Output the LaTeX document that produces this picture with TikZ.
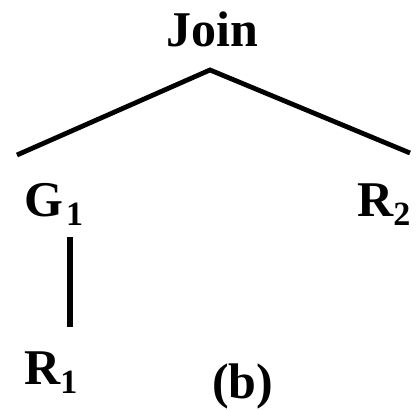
\documentclass[tikz,border=0pt]{standalone}
\usepackage{fontspec}
\setmainfont{Liberation Serif}
\newcommand{\subsc}[1]{\raisebox{-9pt}{\fontsize{34}{34}\selectfont #1}}
\begin{document}
\begin{tikzpicture}[x=1pt,y=1pt,
  lbl/.style={inner sep=0pt,anchor=base west,font=\fontsize{50}{56}\selectfont\bfseries},
  edge/.style={line width=4.8pt}]
\useasboundingbox (0,0) rectangle (416,411);
\node[lbl,anchor=base] (join) at (212,364) {Join};
\node[lbl] (g1) at (24,194) {G\kern3pt\subsc{1}};
\node[lbl] (r2) at (357,194) {R\subsc{2}};
\node[lbl] (r1) at (24,26) {R\subsc{1}};
\node[lbl] (b) at (212,12) {(b)};
\coordinate (apex) at (210,341);
\coordinate (lend) at (17,256);
\coordinate (rend) at (410,258);
\coordinate (vtop) at (70,174);
\coordinate (vbot) at (70,84);
\draw[edge] (lend) -- (apex) -- (rend);
\draw[edge,line width=6pt] (vtop) -- (vbot);
\end{tikzpicture}
\end{document}
